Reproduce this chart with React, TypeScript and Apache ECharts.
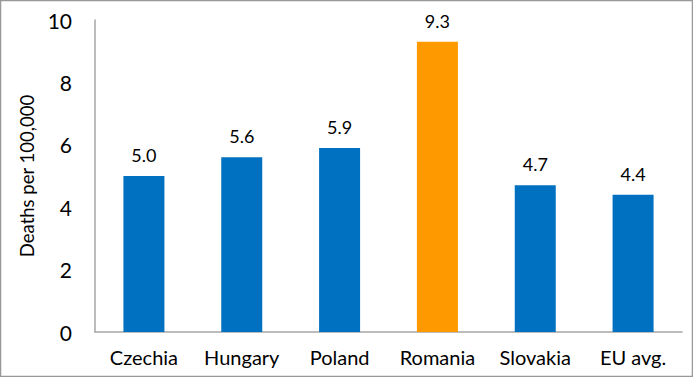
import React, { useEffect, useRef } from "react";
import * as echarts from "echarts";

const categories = ["Czechia", "Hungary", "Poland", "Romania", "Slovakia", "EU avg."];
const values = [5.0, 5.6, 5.9, 9.3, 4.7, 4.4];
const highlight = "Romania";
const yTicks = { min: 0, max: 10, interval: 2 };

export default function App() {
  const ref = useRef<HTMLDivElement>(null);
  useEffect(() => {
    document.body.style.margin = "0";
    const chart = echarts.init(ref.current!, null, { renderer: "svg" });
    const font = "Lato, 'Open Sans', sans-serif";
    chart.setOption({
      animation: false,
      backgroundColor: "#fff",
      graphic: [
        {
          type: "rect",
          shape: { x: 0.5, y: 0.5, width: 692, height: 376 },
          style: { fill: "none", stroke: "#999", lineWidth: 1.5 },
          silent: true,
        },
      ],
      grid: { left: 95, right: 11, top: 20, bottom: 45 },
      xAxis: {
        type: "category",
        data: categories,
        axisLine: { lineStyle: { color: "#a6a6a6", width: 1.5 } },
        axisTick: { show: false },
        axisLabel: { color: "#000", fontSize: 20, fontFamily: font, margin: 15, interval: 0 },
      },
      yAxis: {
        type: "value",
        min: yTicks.min,
        max: yTicks.max,
        interval: yTicks.interval,
        name: "Deaths per 100,000",
        nameLocation: "middle",
        nameRotate: 90,
        nameGap: 57,
        nameTextStyle: { color: "#000", fontSize: 18.5, fontFamily: font },
        axisLine: { show: true, lineStyle: { color: "#a6a6a6", width: 1.5 } },
        axisTick: { show: false },
        splitLine: { show: false },
        axisLabel: { color: "#000", fontSize: 21, fontFamily: font, margin: 23 },
      },
      series: [
        {
          type: "bar",
          barWidth: 41,
          data: values.map((v, i) => ({
            value: v,
            itemStyle: { color: categories[i] === highlight ? "#FF9900" : "#0070C0" },
          })),
          label: {
            show: true,
            position: "top",
            distance: 12,
            color: "#000",
            fontSize: 18,
            fontFamily: font,
            formatter: (p: any) => Number(p.value).toFixed(1),
          },
        },
      ],
    });
    return () => chart.dispose();
  }, []);
  return <div ref={ref} style={{ width: 693, height: 377, position: "absolute", left: 0, top: 0 }} />;
}
